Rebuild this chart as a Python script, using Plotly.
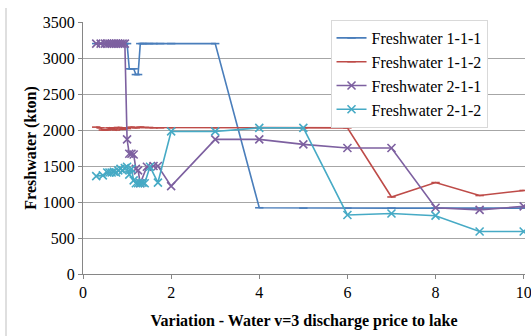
import plotly.graph_objects as go

# Freshwater 1-1-1
x_111 = [0.3, 0.5, 0.6, 0.7, 0.75, 0.8, 0.85, 0.9, 0.95, 1.0, 1.05, 1.1, 1.15, 1.2, 1.25, 1.3,
         1.35, 1.4, 1.5, 1.6, 1.75, 2, 3, 4, 5, 6, 7, 8, 9, 10]
y_111 = [3200, 3200, 3200, 3200, 3200, 3200, 3200, 3200, 3200, 3200, 2850, 2850, 2850, 2770, 2770, 3200,
         3200, 3200, 3200, 3200, 3200, 3200, 3200, 920, 915, 915, 915, 915, 915, 915]

# Freshwater 1-1-2
x_112 = [0.3, 0.4, 0.45, 0.5, 0.55, 0.6, 0.65, 0.7, 0.75, 0.8, 0.85, 0.9, 0.95, 1.0, 1.1, 1.2, 1.3,
         1.4, 1.5, 1.6, 1.75, 2, 3, 4, 5, 6, 7, 8, 9, 10]
y_112 = [2040, 2030, 2000, 2005, 2000, 2030, 2010, 2030, 2000, 2035, 2030, 2010, 2030, 2020, 2040, 2030, 2040,
         2035, 2035, 2030, 2030, 2030, 2030, 2030, 2030, 2030, 1070, 1270, 1090, 1160]

# Freshwater 2-1-1
x_211 = [0.3, 0.4, 0.5, 0.55, 0.6, 0.65, 0.7, 0.75, 0.8, 0.85, 0.9, 0.95, 1.0, 1.05, 1.1, 1.15,
         1.2, 1.25, 1.3, 1.45, 1.6, 1.7, 2, 3, 4, 5, 6, 7, 8, 9, 10]
y_211 = [3200, 3200, 3200, 3200, 3200, 3200, 3200, 3200, 3200, 3200, 3200, 3200, 1870, 1670, 1670, 1660,
         1460, 1440, 1260, 1490, 1500, 1500, 1220, 1870, 1870, 1800, 1750, 1750, 920, 890, 940]

# Freshwater 2-1-2
x_212 = [0.3, 0.45, 0.55, 0.6, 0.65, 0.7, 0.75, 0.8, 0.85, 0.9, 0.95, 1.0, 1.05, 1.1, 1.15, 1.2,
         1.25, 1.3, 1.35, 1.4, 1.52, 1.7, 2, 3, 4, 5, 6, 7, 8, 9, 10]
y_212 = [1360, 1370, 1410, 1410, 1410, 1420, 1410, 1440, 1460, 1440, 1470, 1490, 1380, 1460, 1300, 1260,
         1260, 1260, 1270, 1260, 1490, 1270, 1980, 1980, 2030, 2030, 820, 840, 810, 590, 590]

names = ["Freshwater 1-1-1", "Freshwater 1-1-2", "Freshwater 2-1-1", "Freshwater 2-1-2"]
colors = ["#4A7EBB", "#BE4B48", "#7D60A0", "#46AAC5"]
xs = [x_111, x_112, x_211, x_212]
ys = [y_111, y_112, y_211, y_212]
symbols = ["line-ew", "line-ew", "x-thin", "x-thin"]
msizes = [6, 6, 8, 8]

fig = go.Figure()
for i, (x, y, n, c, s, ms) in enumerate(zip(xs, ys, names, colors, symbols, msizes)):
    fig.add_trace(go.Scatter(
        x=x, y=y, name=n, mode="lines+markers",
        line=dict(color=c, width=1.6),
        marker=dict(symbol=s, size=ms, color=c, line=dict(color=c, width=1.6)),
    ))

serif = "Liberation Serif"
fig.update_layout(
    width=531, height=336,
    margin=dict(l=83, r=6, t=22, b=62, autoexpand=False),
    paper_bgcolor="white", plot_bgcolor="white",
    font=dict(family=serif, size=16, color="black"),
    showlegend=True,
    legend=dict(
        x=0.56, y=1.008, xanchor="left", yanchor="top",
        bgcolor="white", bordercolor="#D9D9D9", borderwidth=1,
        font=dict(family=serif, size=16, color="black"),
        tracegroupgap=0,
    ),
    xaxis=dict(
        range=[0, 10.03], tickvals=[0, 2, 4, 6, 8, 10],
        ticklabeloverflow="allow", automargin=False,
        showgrid=False, zeroline=False,
        showline=True, linecolor="#868686", linewidth=1,
        ticks="outside", ticklen=4, tickcolor="#868686",
        tickfont=dict(family=serif, size=16),
        title=dict(text="<b>Variation - Water v=3 discharge price to lake</b>",
                   font=dict(family=serif, size=16), standoff=14),
    ),
    yaxis=dict(
        range=[0, 3500], dtick=500, tick0=0, automargin=False,
        showgrid=True, gridcolor="#A6A6A6", gridwidth=1,
        zeroline=False,
        showline=True, linecolor="#868686", linewidth=1,
        ticks="outside", ticklen=4, tickcolor="#868686",
        tickfont=dict(family=serif, size=16),
        title=dict(text="<b>Freshwater (kton)</b>",
                   font=dict(family=serif, size=16), standoff=2),
    ),
    shapes=[dict(type="line", xref="paper", yref="paper",
                 x0=(6 - 83) / 442, x1=(6 - 83) / 442, y0=-0.3, y1=1 + (22 - 8) / 252,
                 line=dict(color="#BFBFBF", width=1))],
)

fig.write_html("out.html")
